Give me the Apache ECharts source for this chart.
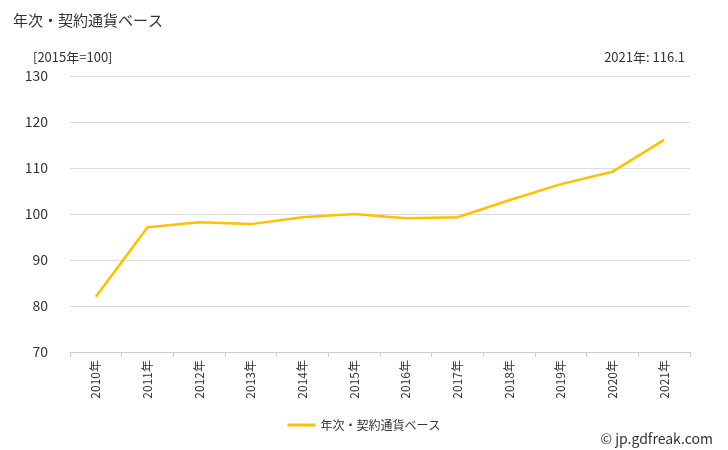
<!DOCTYPE html>
<html><head><meta charset="utf-8">
<script src="https://cdn.jsdelivr.net/npm/echarts@6/dist/echarts.min.js"></script>
<style>html,body{margin:0;padding:0;background:#fff}#c{width:728px;height:450px}</style>
</head><body><div id="c"></div>
<script>
const categories=['2010年','2011年','2012年','2013年','2014年','2015年','2016年','2017年','2018年','2019年','2020年','2021年'];
const values=[82.0,97.1,98.2,97.8,99.3,100.0,99.1,99.3,103.0,106.5,109.2,116.1];
const seriesName='年次・契約通貨ベース';
const ff='"Noto Sans CJK JP","Noto Sans",sans-serif';
const chart=echarts.init(document.getElementById('c'));
chart.setOption({
  animation:false,
  textStyle:{fontFamily:ff},
  title:[
    {text:'年次・契約通貨ベース',left:8,top:8,textStyle:{fontSize:15,fontWeight:'normal',color:'#333',fontFamily:ff}},
    {text:'[2015年=100]',left:28,top:46,textStyle:{fontSize:13,fontWeight:'normal',color:'#333',fontFamily:ff}},
    {text:'2021年: 116.1',right:38,top:46,textStyle:{fontSize:13,fontWeight:'normal',color:'#333',fontFamily:ff}},
    {text:'© jp.gdfreak.com',right:10,top:427,textStyle:{fontSize:14,fontWeight:'normal',color:'#333',fontFamily:ff}}
  ],
  legend:{bottom:14,left:'center',itemWidth:28,itemHeight:3,icon:'rect',textStyle:{fontSize:12,color:'#333'},data:[seriesName]},
  grid:{left:70,right:38,top:76,bottom:98},
  xAxis:{type:'category',data:categories,boundaryGap:true,
    axisLine:{lineStyle:{color:'#ccc'}},axisTick:{show:true,lineStyle:{color:'#ccc'}},
    axisLabel:{rotate:90,fontSize:12,color:'#333',margin:8}},
  yAxis:{type:'value',min:70,max:130,interval:10,
    axisLine:{show:false},axisTick:{show:false},
    splitLine:{lineStyle:{color:'#ddd'}},
    axisLabel:{fontSize:14,color:'#333',margin:22}},
  series:[{name:seriesName,type:'line',data:values,symbol:'none',
    lineStyle:{color:'#FFC000',width:2.5},itemStyle:{color:'#FFC000'}}]
});
</script></body></html>
